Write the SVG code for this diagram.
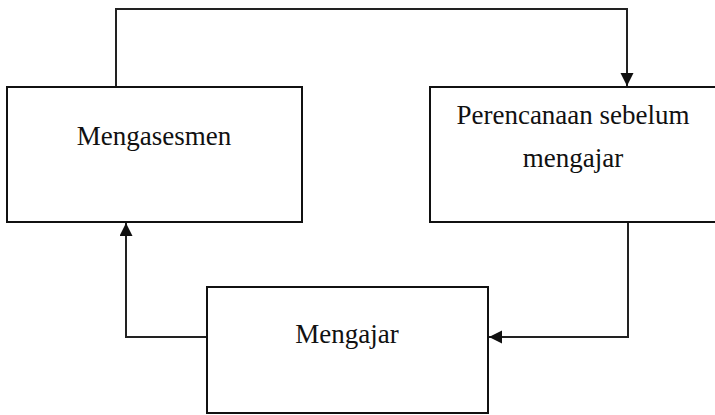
<svg xmlns="http://www.w3.org/2000/svg" width="715" height="415" viewBox="0 0 715 415">
<style>
.box{fill:#fff;stroke:#111;stroke-width:2}
.lbl{font-family:"Liberation Serif","Times New Roman",serif;font-size:27px;fill:#111;text-anchor:middle}
.con{fill:none;stroke:#222;stroke-width:2}
</style>
<defs>
<marker id="arr" markerUnits="userSpaceOnUse" markerWidth="14" markerHeight="14" refX="13" refY="6.5" orient="auto">
<path d="M0,0 L13,6.5 L0,13 z" fill="#111"/>
</marker>
</defs>
<rect width="715" height="415" fill="#fff"/>
<g id="connectors">
<polyline class="con" points="116,87 116,9 627,9 627,86" marker-end="url(#arr)"/>
<polyline class="con" points="628,222 628,337 489,337" marker-end="url(#arr)"/>
<polyline class="con" points="207,337 126,337 126,223" marker-end="url(#arr)"/>
</g>
<g id="mengasesmen">
<rect class="box" x="7" y="87" width="295" height="135"/>
<text class="lbl" x="154" y="145">Mengasesmen</text>
</g>
<g id="perencanaan">
<rect class="box" x="430" y="87" width="300" height="135"/>
<text class="lbl" x="573" y="124">Perencanaan sebelum</text>
<text class="lbl" x="573" y="167">mengajar</text>
</g>
<g id="mengajar">
<rect class="box" x="207" y="287" width="281" height="126"/>
<text class="lbl" x="347" y="343">Mengajar</text>
</g>
</svg>
